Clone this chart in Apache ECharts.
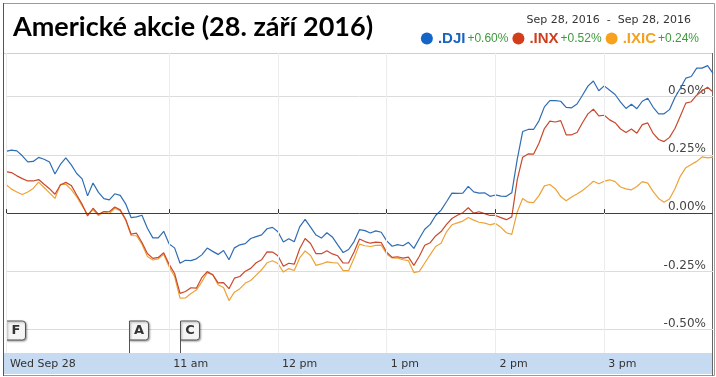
<!DOCTYPE html>
<html>
<head>
<meta charset="utf-8">
<script src="https://cdn.jsdelivr.net/npm/echarts@6/dist/echarts.min.js"></script>
<style>
  html, body { margin: 0; padding: 0; background: #fff; }
  #chart { width: 716px; height: 377px; }
</style>
</head>
<body>
<div id="chart"></div>
<script>
// Americké akcie, 28. 9. 2016 - intraday change in %, sampled every 3 minutes from 9:30
var names = ['.DJI', '.INX', '.IXIC'];
var changes = ['+0.60%', '+0.52%', '+0.24%'];
var lineColors = ['#2f6db3', '#c8492d', '#eea236'];
var legendColors = ['#1565c8', '#d43d1c', '#f7a11d'];

var dji = [
    0.265, 0.270, 0.267, 0.246, 0.220, 0.222, 0.239, 0.231, 0.219, 0.168,
    0.209, 0.237, 0.207, 0.170, 0.147, 0.074, 0.129, 0.089, 0.062, 0.057,
    0.083, 0.076, 0.040, -0.019, -0.016, -0.009, -0.065, -0.106, -0.106, -0.078,
    -0.132, -0.149, -0.215, -0.202, -0.204, -0.196, -0.179, -0.150, -0.164, -0.177,
    -0.160, -0.200, -0.149, -0.136, -0.131, -0.109, -0.101, -0.093, -0.067, -0.061,
    -0.080, -0.124, -0.110, -0.123, -0.059, -0.027, -0.060, -0.094, -0.107, -0.084,
    -0.102, -0.136, -0.169, -0.156, -0.122, -0.071, -0.075, -0.085, -0.076, -0.082,
    -0.119, -0.142, -0.135, -0.140, -0.125, -0.151, -0.109, -0.069, -0.048, -0.010,
    0.013, 0.049, 0.086, 0.085, 0.086, 0.115, 0.091, 0.086, 0.087, 0.072,
    0.078, 0.073, 0.072, 0.087, 0.231, 0.350, 0.359, 0.359, 0.396, 0.456,
    0.483, 0.483, 0.480, 0.454, 0.452, 0.468, 0.506, 0.545, 0.567, 0.525,
    0.546, 0.527, 0.509, 0.476, 0.449, 0.467, 0.448, 0.480, 0.493, 0.454,
    0.426, 0.426, 0.444, 0.496, 0.536, 0.579, 0.586, 0.622, 0.622, 0.633,
    0.600
];

var inx = [
    0.178, 0.174, 0.160, 0.148, 0.138, 0.138, 0.144, 0.124, 0.105, 0.081,
    0.121, 0.132, 0.119, 0.078, 0.038, -0.012, 0.021, -0.005, 0.007, 0.006,
    0.026, 0.014, -0.026, -0.090, -0.086, -0.126, -0.173, -0.194, -0.190, -0.170,
    -0.220, -0.259, -0.344, -0.336, -0.320, -0.322, -0.277, -0.251, -0.264, -0.299,
    -0.298, -0.324, -0.279, -0.272, -0.249, -0.237, -0.213, -0.200, -0.166, -0.167,
    -0.183, -0.228, -0.215, -0.219, -0.153, -0.109, -0.130, -0.174, -0.174, -0.161,
    -0.175, -0.183, -0.214, -0.213, -0.167, -0.111, -0.122, -0.129, -0.124, -0.126,
    -0.168, -0.190, -0.187, -0.193, -0.189, -0.224, -0.185, -0.138, -0.127, -0.098,
    -0.079, -0.048, -0.023, -0.009, 0.002, 0.023, 0.000, 0.006, -0.002, -0.010,
    -0.010, -0.019, -0.028, -0.016, 0.143, 0.240, 0.254, 0.253, 0.300, 0.363,
    0.395, 0.391, 0.397, 0.336, 0.336, 0.346, 0.388, 0.426, 0.446, 0.417,
    0.420, 0.400, 0.388, 0.361, 0.346, 0.361, 0.343, 0.380, 0.387, 0.342,
    0.316, 0.307, 0.325, 0.363, 0.417, 0.472, 0.478, 0.506, 0.525, 0.540,
    0.520
];

var ixic = [
    0.123, 0.103, 0.091, 0.080, 0.091, 0.106, 0.133, 0.110, 0.087, 0.063,
    0.123, 0.124, 0.101, 0.071, 0.031, -0.005, 0.014, -0.010, 0.006, -0.002,
    0.021, 0.010, -0.030, -0.096, -0.097, -0.133, -0.186, -0.201, -0.196, -0.177,
    -0.230, -0.272, -0.365, -0.364, -0.345, -0.330, -0.295, -0.256, -0.263, -0.307,
    -0.319, -0.375, -0.339, -0.324, -0.300, -0.289, -0.266, -0.243, -0.213, -0.204,
    -0.216, -0.253, -0.238, -0.246, -0.192, -0.162, -0.182, -0.224, -0.218, -0.209,
    -0.212, -0.214, -0.247, -0.247, -0.194, -0.133, -0.140, -0.143, -0.138, -0.137,
    -0.175, -0.192, -0.193, -0.200, -0.204, -0.255, -0.250, -0.214, -0.178, -0.143,
    -0.129, -0.080, -0.050, -0.042, -0.034, -0.019, -0.030, -0.039, -0.043, -0.050,
    -0.044, -0.061, -0.084, -0.091, 0.005, 0.063, 0.047, 0.045, 0.075, 0.117,
    0.123, 0.105, 0.071, 0.053, 0.069, 0.082, 0.097, 0.116, 0.137, 0.126,
    0.137, 0.143, 0.135, 0.112, 0.104, 0.100, 0.114, 0.135, 0.129, 0.092,
    0.063, 0.047, 0.061, 0.105, 0.159, 0.195, 0.209, 0.222, 0.241, 0.237,
    0.240
];

// x axis in minutes after 9:30
var tickMinutes = [0, 90, 150, 210, 270, 330];
var tickLabels = ['Wed Sep 28', '11 am', '12 pm', '1 pm', '2 pm', '3 pm'];
var yTicks = [-0.5, -0.25, 0, 0.25, 0.5];
var yMin = -0.6, yMax = 0.687;

// news flags
var flagMinutes = [0, 68, 96];
var flagLetters = ['F', 'A', 'C'];

var minutes = dji.map(function (v, i) { return i * 3; });
function pairs(arr) { return arr.map(function (v, i) { return [minutes[i], v]; }); }

var chart = echarts.init(document.getElementById('chart'), null, { renderer: 'canvas' });

var option = {
    animation: false,
    title: [
        {
            text: 'Americké akcie (28. září 2016)',
            left: 8, top: 9,
            textStyle: { fontFamily: 'Lato', fontWeight: 'bold', fontSize: 27, color: '#000' }
        },
        {
            text: 'Sep 28, 2016  -  Sep 28, 2016',
            right: 20, top: 10,
            textStyle: { fontFamily: 'DejaVu Sans', fontWeight: 'normal', fontSize: 11, color: '#333' }
        }
    ],
    legend: {
        right: 12, top: 26,
        icon: 'circle',
        itemWidth: 12, itemHeight: 12, itemGap: 4,
        data: names.map(function (n, i) { return { name: n, itemStyle: { color: legendColors[i] } }; }),
        formatter: function (name) {
            var i = names.indexOf(name);
            return '{s' + i + '|' + name + '}{c|' + changes[i] + '}';
        },
        textStyle: {
            rich: {
                s0: { color: '#1b63c0', fontSize: 15, fontWeight: 'bold', fontFamily: 'Liberation Sans' },
                s1: { color: '#d13e1d', fontSize: 15, fontWeight: 'bold', fontFamily: 'Liberation Sans' },
                s2: { color: '#f5a11e', fontSize: 15, fontWeight: 'bold', fontFamily: 'Liberation Sans' },
                c: { color: '#3d9a3d', fontSize: 12, fontFamily: 'Liberation Sans', padding: [0, 0, 0, 2] }
            }
        }
    },
    grid: { left: 6, right: 3, top: 53, bottom: 24 },
    xAxis: {
        type: 'value',
        min: 0, max: 390,
        z: 10,
        axisLine: { show: false },
        axisTick: { show: true, inside: true, length: 4, lineStyle: { color: '#333' }, customValues: tickMinutes },
        axisLabel: {
            customValues: tickMinutes,
            align: 'left', margin: 6, padding: [0, 0, 0, 4],
            fontFamily: 'DejaVu Sans', fontSize: 11, color: '#333',
            formatter: function (v) { return tickLabels[tickMinutes.indexOf(v)]; }
        },
        splitLine: { show: true, lineStyle: { color: '#ececec' } }
    },
    yAxis: {
        type: 'value',
        position: 'right',
        min: yMin, max: yMax,
        axisLine: { show: false },
        axisTick: { show: false, customValues: yTicks },
        axisLabel: {
            customValues: yTicks,
            inside: true, margin: 7, verticalAlign: 'bottom',
            fontFamily: 'DejaVu Sans', fontSize: 12, color: '#444',
            formatter: function (v) { return v.toFixed(2) + '%'; }
        },
        splitLine: { show: true, lineStyle: { color: '#dcdcdc' } }
    },
    graphic: [
        { type: 'rect', z: -1, shape: { x: 4, y: 353, width: 708, height: 21 }, style: { fill: '#c6dbf2' } },
        { type: 'rect', shape: { x: 3.5, y: 3.5, width: 711, height: 372 }, style: { fill: 'none', stroke: '#9a9a9a' } },
        { type: 'line', shape: { x1: 3.5, y1: 3, x2: 3.5, y2: 376 }, style: { stroke: '#555' } },
        { type: 'line', shape: { x1: 4, y1: 53.5, x2: 712, y2: 53.5 }, style: { stroke: '#cfcfcf' } },
        { type: 'line', shape: { x1: 712.5, y1: 53, x2: 712.5, y2: 376 }, style: { stroke: '#666' } }
    ],
    series: [
        {
            name: names[2], type: 'line', data: pairs(ixic),
            showSymbol: false, lineStyle: { width: 1.2, color: lineColors[2] }, itemStyle: { color: lineColors[2] },
            markLine: {
                silent: true, symbol: 'none', label: { show: false },
                lineStyle: { color: '#4a3a3a', width: 1, type: 'solid' },
                data: [{ yAxis: 0 }]
            }
        },
        {
            name: names[1], type: 'line', data: pairs(inx),
            showSymbol: false, lineStyle: { width: 1.2, color: lineColors[1] }, itemStyle: { color: lineColors[1] }
        },
        {
            name: names[0], type: 'line', data: pairs(dji),
            showSymbol: false, lineStyle: { width: 1.2, color: lineColors[0] }, itemStyle: { color: lineColors[0] }
        },
        {
            type: 'custom',
            silent: true,
            clip: false,
            z: 5,
            data: flagMinutes.map(function (m, i) { return [m, i]; }),
            renderItem: function (params, api) {
                var p = api.coord([api.value(0), yMin]);
                var x = Math.round(p[0]) + 0.5;
                var y = p[1];
                return {
                    type: 'group',
                    children: [
                        { type: 'line', shape: { x1: x, y1: y, x2: x, y2: y - 32 }, style: { stroke: '#555', lineWidth: 1 } },
                        {
                            type: 'rect',
                            shape: { x: x, y: y - 32, width: 19, height: 19, r: [0, 3, 3, 0] },
                            style: { fill: '#f5f5f5', stroke: '#555', lineWidth: 1, shadowBlur: 2, shadowOffsetX: 1, shadowOffsetY: 1, shadowColor: 'rgba(0,0,0,0.35)' }
                        },
                        {
                            type: 'text',
                            style: {
                                text: flagLetters[api.value(1)], x: x + 9.5, y: y - 22.5,
                                align: 'center', verticalAlign: 'middle',
                                font: 'bold 13px "DejaVu Sans"', fill: '#333'
                            }
                        }
                    ]
                };
            }
        }
    ]
};

chart.setOption(option);
</script>
</body>
</html>
